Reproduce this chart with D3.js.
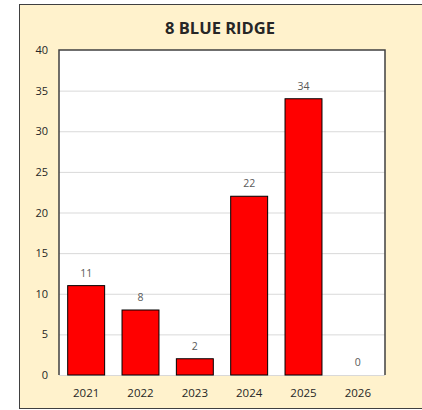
<!DOCTYPE html>
<html><head><meta charset="utf-8">
<script src="https://cdn.jsdelivr.net/npm/d3@7"></script>
<style>body{margin:0;background:#fff;} svg{display:block;}</style>
</head><body>
<script>
const categories = ["2021","2022","2023","2024","2025","2026"];
const values = [11, 8, 2, 22, 34, 0];
const yTicks = [0,5,10,15,20,25,30,35,40];
const title = "8 BLUE RIDGE";

const W = 422, H = 410;
const svg = d3.select("body").append("svg").attr("width", W).attr("height", H);
const font = "Open Sans, Liberation Sans, sans-serif";

svg.append("rect").attr("x",19.5).attr("y",4.5).attr("width",420).attr("height",404)
  .attr("fill","#fff2cc").attr("stroke","#404040").attr("stroke-width",1);

const L=59, R=385, T=50, B=375;
const x = d3.scaleBand().domain(categories).range([L,R]).paddingInner(0.32).paddingOuter(0.16);
const y = d3.scaleLinear().domain([0,40]).range([B,T]);

svg.append("rect").attr("x",L).attr("y",T).attr("width",R-L).attr("height",B-T).attr("fill","#fff");

svg.append("g").selectAll("line").data(yTicks.filter(d=>d>0 && d<40)).join("line")
  .attr("x1",L).attr("x2",R).attr("y1",d=>y(d)+0.5).attr("y2",d=>y(d)+0.5)
  .attr("stroke","#d9d9d9").attr("stroke-width",1);
svg.append("line").attr("x1",L).attr("x2",R).attr("y1",B+0.5).attr("y2",B+0.5)
  .attr("stroke","#d9d9d9").attr("stroke-width",1);

svg.append("path").attr("d",`M${L},${B}V${T}H${R}V${B}`).attr("fill","none")
  .attr("stroke","#404040").attr("stroke-width",1.5);

svg.append("g").selectAll("rect").data(values).join("rect")
  .attr("x",(d,i)=>x(categories[i])).attr("width",x.bandwidth())
  .attr("y",d=>y(d)).attr("height",d=>B-y(d))
  .attr("fill","#ff0000").attr("stroke","#000").attr("stroke-width",d=>d>0?1:0);

svg.append("g").selectAll("text").data(values).join("text")
  .attr("x",(d,i)=>x(categories[i])+x.bandwidth()/2).attr("y",d=>y(d)-9)
  .attr("text-anchor","middle").attr("font-family",font).attr("font-size",10.5)
  .attr("fill","#595959").text(d=>d);

const ya = d3.axisLeft(y).tickValues(yTicks).tickSize(0).tickPadding(0);
const yg = svg.append("g").attr("transform",`translate(${L-11},0)`).call(ya);
yg.select(".domain").remove();
yg.selectAll("text").attr("font-family",font).attr("font-size",11).attr("fill","#262626");

const xa = d3.axisBottom(x).tickSize(0).tickPadding(0);
const xg = svg.append("g").attr("transform",`translate(0,${B+21.5})`).call(xa);
xg.select(".domain").remove();
xg.selectAll("text").attr("font-family",font).attr("font-size",11.5).attr("fill","#262626").attr("dy","0");

svg.append("text").attr("x",220).attr("y",34).attr("text-anchor","middle")
  .attr("font-family",font).attr("font-weight","bold").attr("font-size",16.5)
  .attr("fill","#262626").text(title);
</script>
</body></html>
